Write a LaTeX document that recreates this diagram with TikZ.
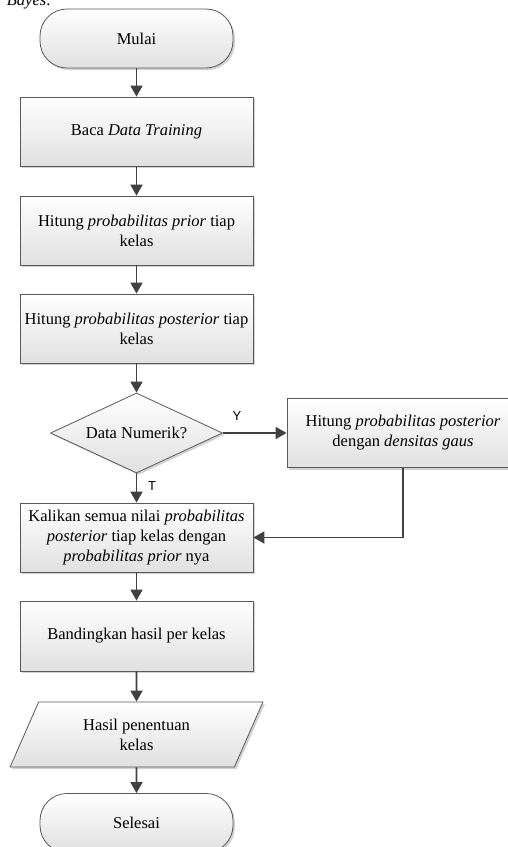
\documentclass[tikz,border=0pt]{standalone}
\usepackage{fontspec}
\setmainfont{Liberation Serif}
\setsansfont{Liberation Sans}
\usetikzlibrary{shapes.geometric,shapes.misc,arrows.meta,shadows}
\tikzset{
  base/.style={draw=black!65, line width=0.8pt, top color=white, bottom color=black!12,
    drop shadow={shadow xshift=2pt, shadow yshift=-2pt, fill=black!35, opacity=0.5},
    font=\fontsize{16.5}{20}\selectfont, align=center, inner sep=0pt},
  proc/.style={base, rectangle, minimum width=233pt, minimum height=69pt},
  term/.style={base, rectangle, rounded corners=27pt, minimum width=193pt, minimum height=59pt},
  dec/.style={base, diamond, aspect=2.15, minimum width=172pt, minimum height=80pt},
  io/.style={base, trapezium, trapezium left angle=63.8, trapezium right angle=116.2,
    trapezium stretches=true, minimum width=253pt, minimum height=65pt},
  arr/.style={draw=black!75, line width=1.8pt, -{Triangle[width=12pt,length=11pt]}},
  lbl/.style={font=\sffamily\fontsize{13}{13}\selectfont, inner sep=0pt}
}
\begin{document}
\begin{tikzpicture}[x=1pt,y=-1pt]
\useasboundingbox (0,0) rectangle (508,847);
\node[font=\fontsize{16.5}{20}\selectfont\itshape, anchor=base east, inner sep=0pt] (frag) at (52,5) {Bayes:};
\node[term] (start) at (136.5,38.5) {Mulai};
\node[proc] (b1) at (136.5,131.5) {Baca \textit{Data Training}};
\node[proc] (b2) at (136.5,230.5) {Hitung \textit{probabilitas prior} tiap\\kelas};
\node[proc] (b3) at (136.5,328.5) {Hitung \textit{probabilitas posterior} tiap\\kelas};
\node[dec] (dec) at (136.5,433) {Data Numerik?};
\node[proc, minimum width=232pt] (rb) at (403,433) {Hitung \textit{probabilitas posterior}\\dengan \textit{densitas gaus}};
\node[proc] (b4) at (136.5,537.5) {Kalikan semua nilai \textit{probabilitas}\\\textit{posterior} tiap kelas dengan\\\textit{probabilitas prior} nya};
\node[proc, minimum height=70pt] (b5) at (136.5,636) {Bandingkan hasil per kelas};
\node[io] (io) at (136.5,734.5) {Hasil penentuan\\kelas};
\node[term] (end) at (136.5,823) {Selesai};
\node[lbl] (ly) at (237,416) {Y};
\node[lbl] (lt) at (152,486) {T};
\draw[arr] (start) -- (b1);
\draw[arr] (b1) -- (b2);
\draw[arr] (b2) -- (b3);
\draw[arr] (b3) -- (dec);
\draw[arr] (dec.east) -- (rb.west);
\draw[arr] (dec.south) -- (b4.north);
\draw[arr] (rb.south) |- (b4.east);
\draw[arr] (b4) -- (b5);
\draw[arr] (b5) -- (io);
\draw[arr] (io) -- (end);
\end{tikzpicture}
\end{document}
